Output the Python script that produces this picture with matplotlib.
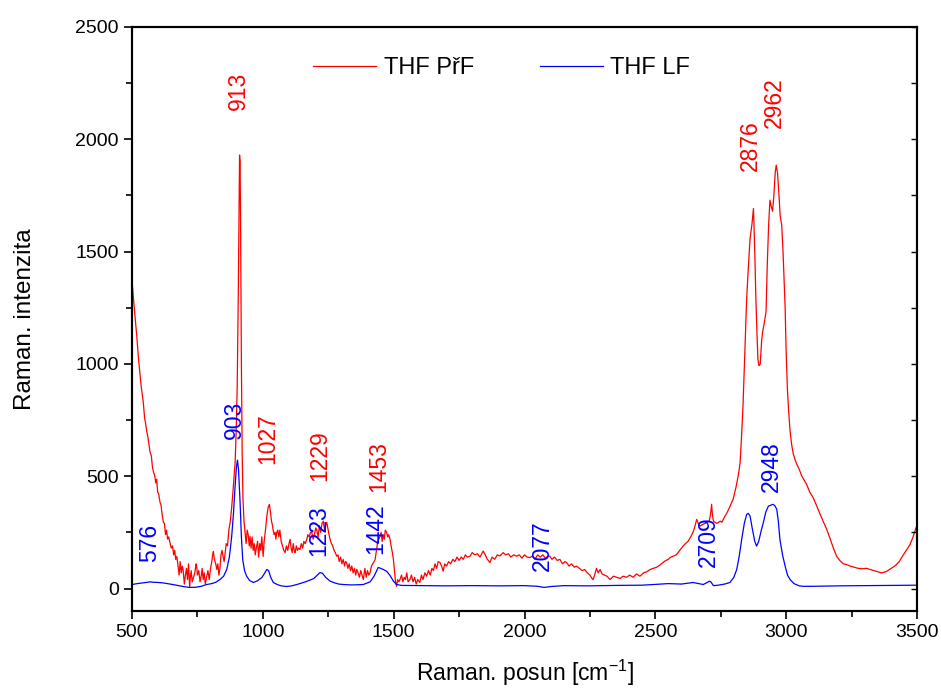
import numpy as np
import matplotlib
matplotlib.use("Agg")
import matplotlib.pyplot as plt
from matplotlib.ticker import MultipleLocator

plt.rcParams['font.family'] = ['Liberation Sans', 'DejaVu Sans']
plt.rcParams['mathtext.fontset'] = 'custom'
plt.rcParams['mathtext.rm'] = 'Liberation Sans'

# THF PřF (red) - Raman shift [cm-1], intensity
pri_x = [500, 505, 510, 518, 525, 530, 535, 543, 548, 552, 556, 560, 565, 569, 574, 578, 582, 587,
         591, 594, 598, 602, 607, 611, 615, 620, 624, 628, 632, 636, 640, 645, 650, 655, 659, 663,
         667, 671, 675, 680, 684, 688, 692, 695, 700, 704, 708, 712, 716, 720, 722, 726, 730, 735,
         740, 745, 747, 750, 755, 760, 765, 768, 772, 776, 780, 785, 790, 795, 800, 805, 808, 811,
         815, 820, 824, 828, 832, 836, 840, 844, 848, 852, 856, 860, 865, 870, 875, 880, 885, 890,
         894, 898, 902, 906, 909, 911, 913, 915, 918, 921, 924, 928, 932, 936, 940, 944, 948, 951,
         955, 959, 963, 967, 971, 976, 980, 984, 988, 992, 996, 1001, 1005, 1010, 1015, 1020, 1025,
         1029, 1033, 1037, 1039, 1043, 1047, 1050, 1053, 1057, 1061, 1065, 1070, 1075, 1080, 1085,
         1090, 1095, 1100, 1104, 1108, 1112, 1116, 1120, 1123, 1128, 1132, 1137, 1142, 1147, 1152,
         1157, 1162, 1168, 1172, 1177, 1182, 1187, 1192, 1197, 1202, 1206, 1211, 1216, 1221, 1226,
         1231, 1236, 1240, 1244, 1248, 1253, 1257, 1262, 1267, 1272, 1277, 1282, 1287, 1292, 1297,
         1302, 1307, 1312, 1316, 1320, 1325, 1330, 1335, 1340, 1345, 1350, 1355, 1359, 1364, 1369,
         1374, 1379, 1384, 1390, 1395, 1400, 1405, 1410, 1415, 1420, 1425, 1429, 1434, 1438, 1443,
         1448, 1452, 1456, 1460, 1464, 1468, 1473, 1477, 1481, 1486, 1490, 1495, 1499, 1503, 1507,
         1511, 1515, 1520, 1524, 1530, 1535, 1540, 1545, 1550, 1555, 1562, 1568, 1574, 1580, 1586,
         1592, 1600, 1606, 1612, 1619, 1626, 1633, 1640, 1646, 1652, 1658, 1664, 1670, 1677, 1683,
         1689, 1695, 1702, 1710, 1718, 1726, 1734, 1742, 1750, 1758, 1766, 1774, 1782, 1792, 1800,
         1810, 1820, 1830, 1842, 1850, 1858, 1868, 1876, 1886, 1896, 1906, 1918, 1928, 1938, 1948,
         1958, 1970, 1980, 1990, 2000, 2010, 2021, 2030, 2040, 2050, 2060, 2070, 2080, 2090, 2097,
         2105, 2115, 2125, 2135, 2145, 2155, 2161, 2170, 2180, 2190, 2199, 2210, 2220, 2230, 2240,
         2250, 2258, 2262, 2268, 2275, 2282, 2289, 2296, 2305, 2315, 2327, 2340, 2352, 2365, 2377,
         2390, 2402, 2415, 2428, 2441, 2455, 2468, 2480, 2492, 2505, 2518, 2529, 2540, 2550, 2556,
         2568, 2580, 2590, 2600, 2606, 2615, 2625, 2635, 2644, 2652, 2658, 2664, 2671, 2680, 2690,
         2696, 2706, 2712, 2715, 2718, 2722, 2728, 2735, 2742, 2748, 2754, 2765, 2775, 2785, 2797,
         2808, 2818, 2824, 2830, 2835, 2840, 2845, 2849, 2855, 2862, 2869, 2875, 2880, 2884, 2888,
         2892, 2896, 2901, 2906, 2910, 2916, 2923, 2928, 2933, 2938, 2943, 2948, 2953, 2958, 2962,
         2967, 2972, 2977, 2983, 2988, 2993, 2996, 3000, 3005, 3010, 3015, 3021, 3027, 3035, 3040,
         3050, 3060, 3070, 3078, 3090, 3103, 3117, 3130, 3141, 3155, 3170, 3182, 3193, 3205, 3218,
         3231, 3244, 3260, 3275, 3290, 3308, 3320, 3335, 3350, 3362, 3370, 3382, 3395, 3408, 3420,
         3432, 3445, 3461, 3473, 3485, 3496, 3500]
pri_y = [1370, 1300, 1230, 1126, 1020, 960, 900, 830, 760, 735, 700, 680, 640, 607, 590, 540, 520, 500,
         470, 487, 430, 420, 384, 370, 330, 295, 290, 240, 260, 220, 230, 205, 180, 190, 150, 170,
         130, 143, 110, 60, 120, 70, 100, 85, 20, 60, 90, 40, 110, 10, 40, 80, 30, 50,
         70, 110, 98, 60, 80, 30, 60, 90, 40, 70, 20, 50, 80, 40, 90, 120, 150, 165,
         130, 110, 85, 110, 60, 90, 150, 170, 143, 120, 160, 200, 190, 260, 295, 350, 420, 500,
         560, 700, 900, 1300, 1700, 1930, 1900, 1600, 1000, 600, 400, 300, 250, 200, 260, 240, 190, 232,
         180, 230, 170, 200, 150, 188, 210, 140, 200, 170, 230, 143, 210, 260, 320, 360, 375,
         340, 300, 280, 263, 240, 250, 220, 250, 260, 230, 260, 210, 190, 170, 160,
         190, 170, 200, 219, 180, 160, 200, 170, 160, 190, 170, 180, 174, 200, 180,
         210, 200, 219, 240, 230, 250, 250, 220, 240, 270, 260, 230, 280, 250, 290,
         300, 260, 280, 295, 270, 240, 219, 200, 190, 170, 160, 144, 150, 120, 140,
         110, 130, 100, 120, 116, 90, 110, 80, 100, 70, 90, 60, 85, 70, 50,
         80, 60, 40, 90, 50, 80, 60, 71, 100, 110, 120, 129, 170, 200, 220,
         233, 250, 210, 240, 220, 260, 250, 230, 240, 219, 190, 160, 129, 80, 30,
         10, 40, 30, 40, 60, 30, 50, 40, 70, 30, 40, 60, 30, 50, 20,
         40, 27, 60, 40, 70, 55, 80, 60, 90, 80, 110, 90, 120, 116, 100,
         77, 110, 100, 120, 110, 130, 120, 140, 125, 140, 130, 150, 140, 144, 160,
         150, 155, 140, 167, 150, 130, 116, 140, 130, 150, 145, 160, 150, 155, 140,
         150, 144, 150, 135, 150, 140, 138, 145, 130, 150, 140, 150, 135, 145, 144,
         130, 140, 125, 130, 110, 120, 116, 100, 110, 95, 100, 90, 80, 85, 70,
         60, 45, 40, 60, 90, 70, 85, 65, 60, 55, 40, 55, 50, 45, 55,
         50, 60, 50, 65, 55, 70, 75, 85, 90, 95, 105, 116, 125, 130, 138,
         144, 150, 165, 180, 189, 200, 210, 230, 250, 280, 308, 290, 278, 285, 290,
         295, 300, 340, 375, 330, 300, 295, 290, 295, 300, 295, 320, 340, 365, 397,
         450, 510, 562, 690, 813, 980, 1150, 1290, 1420, 1558, 1620, 1692, 1500, 1300, 1150,
         1020, 992, 1000, 1100, 1143, 1180, 1232, 1450, 1620, 1729, 1700, 1680, 1750, 1850, 1885,
         1850, 1760, 1660, 1617, 1500, 1350, 1250, 1050, 880, 780, 700, 640, 600, 570, 555,
         530, 500, 480, 464, 430, 405, 367, 330, 300, 263, 215, 175, 144, 125, 110,
         107, 100, 95, 90, 88, 90, 85, 80, 75, 70, 71, 75, 85, 95, 105,
         120, 145, 174, 195, 230, 270, 280]

# THF LF (blue)
lf_x = [500, 520, 540, 560, 569, 580, 600, 620, 645, 670, 700, 722, 745, 765, 785, 805, 820, 836,
        850, 862, 872, 881, 888, 894, 899, 903, 907, 913, 918, 923, 930, 938, 950, 964, 980, 996,
        1005, 1015, 1022, 1030, 1040, 1055, 1070, 1091, 1110, 1130, 1155, 1175, 1195, 1210, 1218,
        1228, 1240, 1257, 1275, 1290, 1308, 1340, 1384, 1410, 1425, 1435, 1441, 1450, 1460, 1473,
        1485, 1493, 1499, 1511, 1530, 1600, 1700, 1800, 1900, 2000, 2050, 2075, 2100, 2150, 2250,
        2350, 2450, 2550, 2600, 2644, 2665, 2683, 2700, 2706, 2712, 2722, 2740, 2765, 2785, 2800,
        2811, 2820, 2830, 2840, 2849, 2855, 2862, 2870, 2880, 2887, 2895, 2905, 2913, 2922, 2932,
        2940, 2948, 2956, 2964, 2970, 2976, 2986, 2996, 3005, 3015, 3030, 3050, 3065, 3100, 3200,
        3300, 3400, 3500]
lf_y = [18, 22, 25, 28, 30, 28, 27, 25, 20, 15, 8, 5, 6, 10, 18, 22, 28, 40,
        55, 85, 140, 233, 340, 457, 540, 572, 530, 384, 230, 129, 80, 55, 35, 27, 35, 49,
        65, 85, 80, 50, 27, 18, 12, 9, 12, 18, 27, 35, 45, 62, 71,
        68, 50, 33, 25, 20, 18, 16, 18, 30, 55, 80, 94, 90, 85, 77,
        60, 45, 33, 18, 14, 13, 12, 13, 12, 13, 10, 5, 9, 13, 12,
        14, 15, 22, 20, 27, 22, 18, 28, 33, 30, 13, 15, 20, 27, 50,
        85, 140, 219, 290, 330, 335, 323, 270, 210, 189, 210, 260, 295, 340, 367,
        370, 375, 370, 353, 300, 219, 150, 100, 60, 40, 22, 12, 10, 10, 12,
        13, 14, 15]

# peak labels: (text, x, y)
pri_labels = [("913", 905, 2130), ("1027", 1018, 553), ("1229", 1218, 478),
              ("1453", 1444, 428), ("2876", 2865, 1857), ("2962", 2953, 2049)]
lf_labels = [("576", 569, 116), ("903", 890, 665), ("1223", 1215, 143),
             ("1442", 1432, 152), ("2077", 2067, 76), ("2709", 2701, 94),
             ("2948", 2942, 428)]

RED = '#ff0000'
BLUE = '#0000ff'

fig = plt.figure(figsize=(9.41, 6.93), dpi=100)
ax = fig.add_axes([0.1403, 0.1183, 0.8342, 0.8428])

ax.plot(pri_x, pri_y, color=RED, lw=0.9, label='THF PřF')
ax.plot(lf_x, lf_y, color=BLUE, lw=0.9, label='THF LF')

for txt, x, y in pri_labels:
    ax.text(x, y, txt, color=RED, fontsize=16.5, rotation=90, ha='center', va='bottom')
for txt, x, y in lf_labels:
    ax.text(x, y, txt, color=BLUE, fontsize=16.5, rotation=90, ha='center', va='bottom')

ax.set_xlim(500, 3500)
ax.set_ylim(-100, 2500)
ax.xaxis.set_major_locator(MultipleLocator(500))
ax.xaxis.set_minor_locator(MultipleLocator(250))
ax.yaxis.set_major_locator(MultipleLocator(500))
ax.yaxis.set_minor_locator(MultipleLocator(250))
ax.tick_params(which='major', direction='out', length=6, width=1.2, labelsize=14)
ax.tick_params(which='minor', direction='out', length=4, width=1.2)

# right side ticks pointing inward
ax2 = ax.twinx()
ax2.set_ylim(ax.get_ylim())
ax2.yaxis.set_major_locator(MultipleLocator(500))
ax2.yaxis.set_minor_locator(MultipleLocator(250))
ax2.tick_params(which='both', direction='in', length=4, width=1, labelright=False)

for a in (ax, ax2):
    for s in a.spines.values():
        s.set_linewidth(1.5)

ax.set_xlabel('Raman. posun [cm$^{-1}$]', fontsize=16.5, labelpad=12)
ax.set_ylabel('Raman. intenzita', fontsize=17.5, labelpad=28)

ax.legend(loc='upper left', bbox_to_anchor=(0.204, 0.985), ncol=2, frameon=False,
          fontsize=17, handlelength=2.67, columnspacing=2.8, handletextpad=0.3)

fig.savefig('out.png', dpi=100)
